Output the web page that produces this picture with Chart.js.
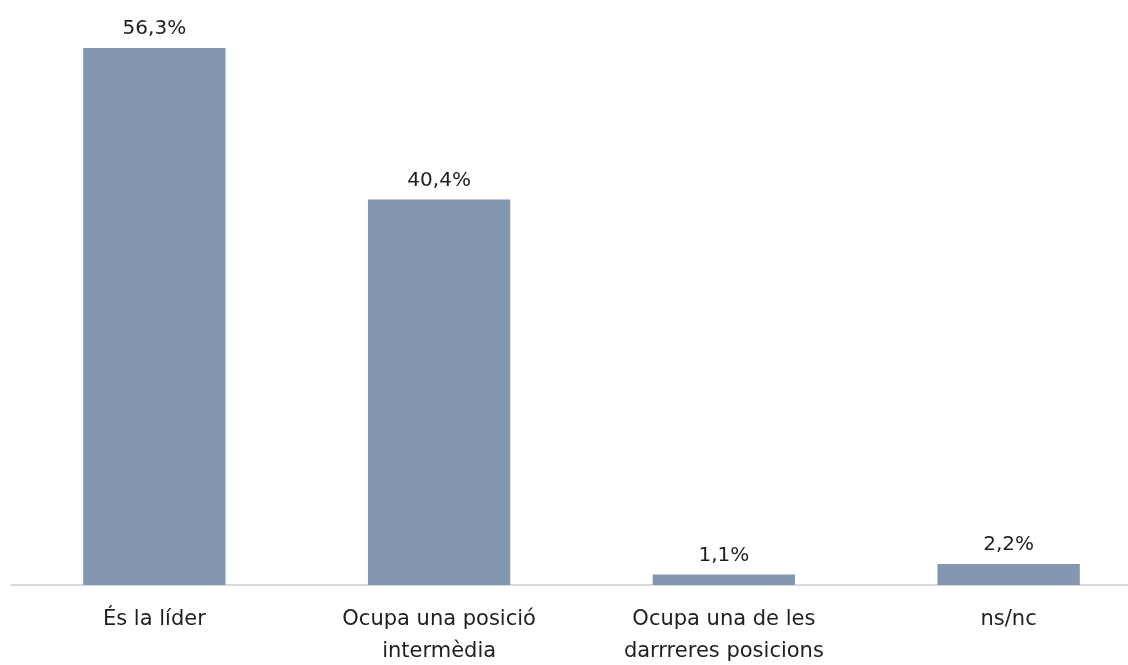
<!DOCTYPE html>
<html>
<head>
<meta charset="utf-8">
<script src="https://cdn.jsdelivr.net/npm/chart.js@4.4.1/dist/chart.umd.min.js"></script>
<style>
  html, body { margin: 0; padding: 0; background: #fff; overflow: hidden; }
  #wrap { width: 1151px; height: 665px; position: relative; }
</style>
</head>
<body>
<div id="wrap"><canvas id="posicioChart"></canvas></div>
<script>
const categories = [
    'És la líder',
    ['Ocupa una posició', 'intermèdia'],
    ['Ocupa una de les', 'darrreres posicions'],
    'ns/nc'
];
const values = [56.3, 40.4, 1.1, 2.2];

const fontFamily = '"DejaVu Sans", sans-serif';
const textColor = '#1f1f1f';

// etiquetes de valor damunt de cada barra
const valueLabels = {
    id: 'valueLabels',
    afterDatasetsDraw(chart) {
        const ctx = chart.ctx;
        const meta = chart.getDatasetMeta(0);
        ctx.save();
        ctx.font = '20px ' + fontFamily;
        ctx.fillStyle = textColor;
        ctx.textAlign = 'center';
        ctx.textBaseline = 'bottom';
        meta.data.forEach((bar, i) => {
            const txt = values[i].toFixed(1).replace('.', ',') + '%';
            ctx.fillText(txt, bar.x, bar.y - 9);
        });
        ctx.restore();
    }
};

const ctx = document.getElementById('posicioChart').getContext('2d');

const chart = new Chart(ctx, {
    type: 'bar',
    data: {
        labels: categories,
        datasets: [{
            data: values,
            backgroundColor: '#8497b0',
            categoryPercentage: 1,
            barPercentage: 0.5
        }]
    },
    options: {
        responsive: true,
        maintainAspectRatio: false,
        animation: false,
        layout: { padding: { left: 12, top: 12.6, right: 0, bottom: 0 } },
        plugins: {
            legend: { display: false },
            tooltip: { enabled: false }
        },
        scales: {
            x: {
                grid: { display: false, drawTicks: false },
                border: { display: true, color: '#d9d9d9', width: 2 },
                ticks: {
                    color: textColor,
                    font: { family: fontFamily, size: 21, lineHeight: 1.5 },
                    padding: 19,
                    maxRotation: 0,
                    autoSkip: false
                },
                afterFit(scale) { scale.height = 80; }
            },
            y: {
                display: false,
                min: 0,
                max: 60
            }
        }
    },
    plugins: [valueLabels]
});
</script>
</body>
</html>
